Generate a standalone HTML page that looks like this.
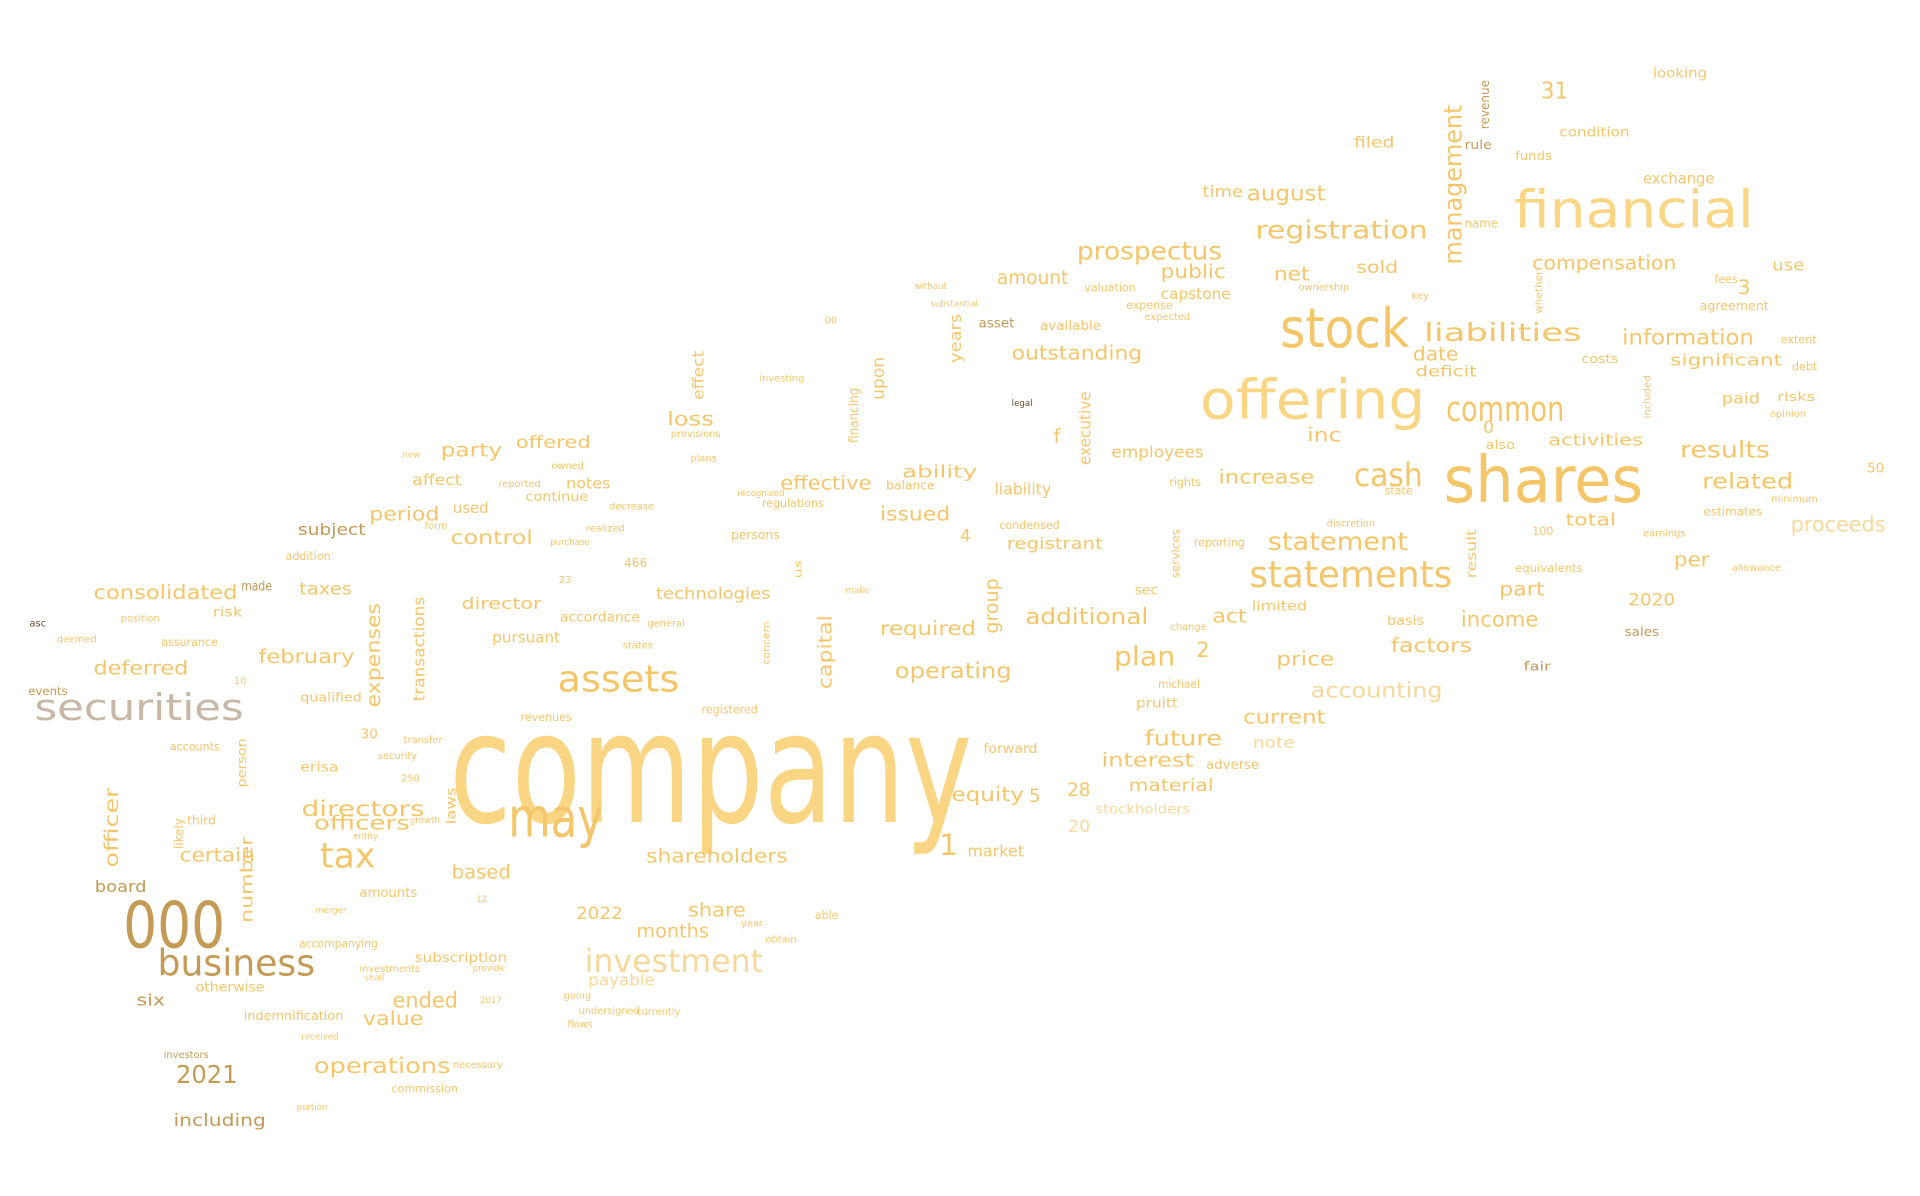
<!DOCTYPE html>
<html>
<head>
<meta charset="utf-8">
<style>
  html, body { margin: 0; padding: 0; background: #ffffff; }
  svg { display: block; }
  text { font-family: "DejaVu Sans", "Liberation Sans", sans-serif; }
</style>
</head>
<body>
<svg id="cloud" width="1920" height="1196" viewBox="0 0 1560 972" preserveAspectRatio="none" xmlns="http://www.w3.org/2000/svg">
  <rect x="0" y="0" width="1560" height="972" fill="#ffffff"/>
  <g id="words"></g>
</svg>
<script>
const words = ["company","shares","offering","stock","financial","may","000","securities","business","assets","statements","common","cash","tax","investment","registration","liabilities","prospectus","management","statement","plan","information","results","related","proceeds","compensation","outstanding","amount","public","net","august","time","increase","inc","income","part","price","accounting","factors","current","additional","operating","future","interest","material","equity","required","act","issued","ability","effective","loss","party","offered","period","control","subject","consolidated","taxes","february","deferred","directors","officers","certain","board","officer","2021","six","operations","including","ended","value","months","share","2022","shareholders","based","1","market","28","5","2","4","3","31","2020","per","total","activities","significant","exchange","use","sold","date","deficit","capstone","0","upon","years","capital","expenses","transactions","group","executive","number","technologies","director","pursuant","accordance","notes","continue","affect","employees","liability","registrant","pruitt","adverse","note","stockholders","forward","f","amounts","erisa","30","subscription","payable","accompanying","indemnification","otherwise","commission","20","revenues","used","filed","looking","condition","rule","name","revenue","funds","fees","agreement","costs","paid","risks","estimates","sales","fair","michael","sec","limited","basis","equivalents","also","result","50","extent","debt","opinion","minimum","events","asc","10","made","risk","qualified","position","assurance","deemed","addition","accounts","likely","third","person","laws","investors","effect","financing","balance","valuation","expected","available","asset","condensed","rights","reporting","change","ownership","state","services","discretion","100","allowance","earnings","whether","key","expense","included","466","23","decrease","realized","us","concern","states","general","registered","purchase","persons","regulations","provisions","investing","plans","recognized","make","reported","owned","new","form","transfer","security","250","growth","12","obtain","able","year","going","flows","undersigned","currently","2017","received","portion","necessary","investments","shall","provide","merger","entity","00","legal","without","substantial"];
const xs = [365,1173,975,1040,1230,413,100,28,128,453,1015,1175,1100,260,475,1020,1157,875,1180,1030,905,1318,1365,1383,1455,1245,822,810,943,1035,1013,977,990,1062,1187,1218,1037,1065,1130,1010,833,727,930,895,917,773,715,985,715,733,634,542,358,419,300,366,242,76,243,210,76,245,255,146,77,90,143,111,255,141,319,295,517,559,468,525,367,763,786,867,836,972,780,1412,1252,1323,1360,1272,1258,1357,1335,1440,1102,1148,1150,943,1205,713,776,670,303,340,805,881,200,533,375,400,455,460,427,335,903,808,818,923,980,1018,890,799,856,292,244,293,337,478,243,198,159,318,868,423,368,1100,1343,1267,1190,1190,1206,1231,1393,1381,1285,1399,1444,1384,1320,1238,941,922,1017,1127,1231,1207,1195,1517,1447,1456,1438,1439,23,24,190,196,173,244,98,131,46,232,138,145,152,196,366,133,567,693,720,881,930,845,795,812,950,970,951,1055,1125,955,1078,1245,1407,1335,1250,1147,915,1338,507,454,495,476,648,622,506,526,570,447,594,619,545,617,561,599,687,405,448,327,345,328,307,326,333,387,622,662,602,458,461,470,517,390,245,241,368,292,296,384,256,287,670,822,743,756];
const ys = [668,408,340,282,185,680,770,585,793,562,477,342,395,705,790,194,277,211,215,447,541,280,372,397,432,219,292,231,226,228,163,160,393,359,509,484,541,567,530,588,507,551,606,623,643,651,516,506,423,388,398,346,371,364,423,442,435,487,483,539,548,663,674,700,725,705,880,817,872,915,819,833,762,745,747,701,714,695,696,647,652,534,440,239,80,492,460,427,362,297,149,220,222,293,306,243,352,325,295,560,575,570,515,378,750,487,495,522,505,397,407,394,372,402,446,575,625,608,661,612,360,729,627,600,782,801,770,829,806,888,676,586,417,120,63,111,121,185,105,130,230,252,295,328,326,419,517,545,559,483,496,508,465,365,470,384,279,301,339,408,565,509,556,480,501,570,505,525,522,455,610,690,670,640,670,860,325,360,398,237,260,268,266,430,395,444,512,236,402,470,428,435,464,436,255,243,251,340,461,474,414,432,470,540,527,509,580,443,438,412,355,310,375,403,482,396,381,372,430,604,617,635,669,733,766,747,753,812,835,824,825,815,845,902,868,790,797,789,742,682,263,330,235,249];
const lens = [
  425,162,183,105,195,77,83,170,128,99,
  165,96,56,45,145,140,128,118,130,114,
  50,107,73,74,77,117,106,58,53,29,
  64,33,78,28,63,37,47,107,66,67,
  100,95,63,75,69,59,78,28,57,61,
  74,38,50,61,57,67,55,117,43,78,
  77,100,78,61,42,65,50,23,111,75,
  53,49,59,47,38,115,48,0,46,19,
  0,0,0,0,22,38,29,41,77,91,
  58,26,34,37,50,57,0,35,40,60,
  85,85,45,60,70,93,65,55,65,36,
  51,40,75,46,78,34,43,34,77,44,
  0,47,31,0,75,54,64,81,56,54,
  0,0,29,33,44,57,22,27,40,30,
  0,56,30,31,31,48,28,22,34,19,
  45,30,55,24,40,0,0,0,0,0,
  32,0,0,25,24,50,0,0,0,0,
  0,25,0,40,30,0,40,45,0,0,
  0,0,0,0,0,0,0,0,0,40,
  0,0,0,0,35,0,0,35,0,0,
  0,0,15,35
];
const sizes = [125,52,44,44,42,44,52,30,30,30,30,28,26,28,26,20,20,20,20,20,22,17,19,17,17,16,16,16,15,16,17,13,16,16,17,16,16,17,16,16,18,17,17,15,14,16,16,15,16,14,15,15,15,14,15,15,13,16,14,15,15,17,16,15,13,15,20,13,17,14,17,15,15,15,14,15,15,24,13,15,15,17,14,16,19,14,15,14,13,13,12,13,14,15,12,12,14,14,13,15,15,13,15,13,14,13,13,12,11,12,11,12,13,13,13,11,11,13,11,11,16,11,11,11,11,13,9,10,11,9,14,9,12,12,11,11,10,10,10,10,9,10,10,12,10,9,10,10,9,11,11,11,9,10,11,11,9,9,8,8,9,8,8,11,11,10,8,9,8,9,9,10,10,10,11,8,12,11,10,9,8,11,11,9,9,9,8,8,9,9,8,9,8,8,8,8,9,8,10,8,8,8,8,8,8,8,9,7,10,9,8,8,8,7,7,8,8,7,8,8,8,8,7,7,8,9,8,8,8,8,8,7,7,7,8,8,7,7,7,7,8,7,7,7,8];
const brownWords = ["000","business","subject","board","2021","six","including","rule","revenue","sales","fair","events","made","investors","asset"];
const lightWords = ["investment","accounting","proceeds","note","stockholders","20","payable"];
const greyWords = ["securities"];
const darkWords = ["asc","legal"];
const paleWords = ["company","offering","financial"];
const verticals = ["management","officer","upon","years","capital","expenses","transactions","group","executive","number","revenue","result","likely","person","laws","effect","financing","services","whether","included","us","concern"];
function colorOf(w) {
  if (brownWords.indexOf(w) >= 0) return "#c49a55";
  if (lightWords.indexOf(w) >= 0) return "#f8d89a";
  if (greyWords.indexOf(w) >= 0) return "#c8b7a5";
  if (darkWords.indexOf(w) >= 0) return "#6a5030";
  if (paleWords.indexOf(w) >= 0) return "#f9d584";
  return "#f5c669";
}
const g = document.getElementById('words');
const NS = "http://www.w3.org/2000/svg";
for (let i = 0; i < words.length; i++) {
  const t = document.createElementNS(NS, 'text');
  
  
  const fs = sizes[i];
  t.setAttribute('font-size', fs);
  t.setAttribute('fill', colorOf(words[i]));
  if (verticals.indexOf(words[i]) >= 0) {
    const bx = xs[i] + fs * 0.38;
    t.setAttribute('x', bx);
    t.setAttribute('y', ys[i]);
    t.setAttribute('transform', 'rotate(-90 ' + bx + ' ' + ys[i] + ')');
  } else {
    t.setAttribute('x', xs[i]);
    t.setAttribute('y', ys[i]);
  }
  const len = lens[i] || 0;
  if (len > 0) {
    t.setAttribute('textLength', len);
    t.setAttribute('lengthAdjust', 'spacingAndGlyphs');
  }
  t.textContent = words[i];
  g.appendChild(t);
}
</script>
</body>
</html>
